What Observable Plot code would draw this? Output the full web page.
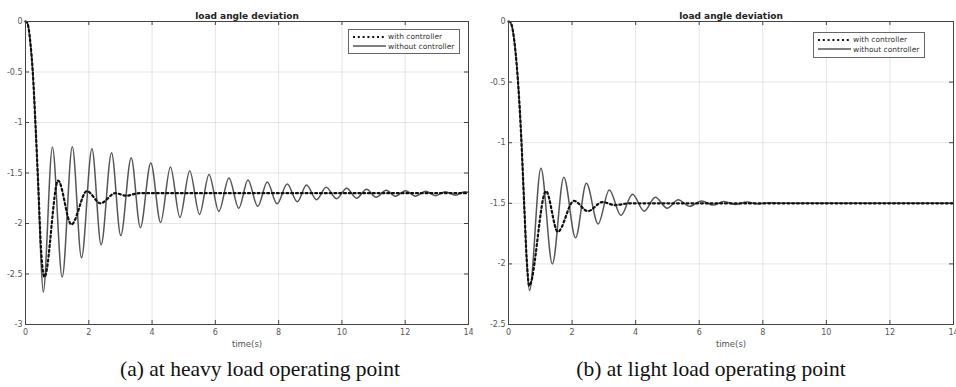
<!DOCTYPE html>
<html><head><meta charset="utf-8">
<script src="https://cdn.jsdelivr.net/npm/d3@7"></script>
<script src="https://cdn.jsdelivr.net/npm/@observablehq/plot@0.6"></script>
<style>
body{margin:0;background:#fff;}
#wrap{position:relative;width:956px;height:387px;overflow:hidden;background:#fff;}
.panel{position:absolute;top:0;}
.cap{position:absolute;top:357px;font-family:"Liberation Serif","Times New Roman",serif;font-size:21.5px;line-height:24px;color:#111;white-space:nowrap;transform:translateX(-50%);}
.legend{position:absolute;border:1px solid #666;background:#fff;font-family:"DejaVu Sans",sans-serif;font-size:7.5px;color:#333;}
.legend .row{position:absolute;left:3px;height:9px;display:flex;align-items:center;white-space:nowrap;}
.legend svg{margin-right:1px;}
</style></head>
<body>
<div id="wrap"></div>
<script>
const chartTitle = "load angle deviation";
const xLabel = "time(s)";
const seriesNames = ["with controller", "without controller"];
const captions = ["(a) at heavy load operating point", "(b) at light load operating point"];
const xTicks = [0, 2, 4, 6, 8, 10, 12, 14];
const yTicksHeavy = [0, -0.5, -1, -1.5, -2, -2.5, -3];
const yTicksLight = [0, -0.5, -1, -1.5, -2, -2.5];

// (a) heavy load: [time, deviation]
const heavyWith = [[0,0],[0.05,-0.01],[0.1,-0.07],[0.15,-0.2],[0.23,-0.5],[0.32,-1.05],[0.4,-1.6],[0.49,-2.25],[0.6,-2.53],[1.03,-1.575],[1.45,-2.01],[1.94,-1.68],[2.37,-1.8],[2.84,-1.7],[3.18,-1.725],[3.6,-1.7],[14,-1.7]];
const heavyWithout = [[0,0],[0.05,-0.01],[0.1,-0.07],[0.15,-0.2],[0.23,-0.5],[0.32,-1.05],[0.4,-1.6],[0.48,-2.3],[0.56,-2.68],[0.85,-1.245],[1.16,-2.53],[1.48,-1.24],[1.77,-2.34],[2.1,-1.26],[2.39,-2.21],[2.72,-1.3],[3.01,-2.12],[3.34,-1.35],[3.63,-2.04],[3.96,-1.4],[4.27,-1.99],[4.58,-1.44],[4.88,-1.94],[5.19,-1.48],[5.5,-1.91],[5.8,-1.515],[6.11,-1.88],[6.43,-1.55],[6.74,-1.85],[7.03,-1.57],[7.34,-1.83],[7.64,-1.59],[7.95,-1.805],[8.27,-1.61],[8.59,-1.785],[8.88,-1.62],[9.2,-1.765],[9.5,-1.64],[9.83,-1.755],[10.15,-1.65],[10.46,-1.75],[10.78,-1.66],[11.08,-1.74],[11.4,-1.67],[11.69,-1.73],[12.01,-1.675],[12.33,-1.73],[12.64,-1.68],[12.96,-1.725],[13.27,-1.685],[13.59,-1.72],[13.88,-1.685],[14,-1.69]];

// (b) light load: [time, deviation]
const lightWith = [[0,0],[0.05,-0.005],[0.1,-0.03],[0.2,-0.2],[0.3,-0.5],[0.4,-0.95],[0.5,-1.55],[0.57,-1.95],[0.65,-2.18],[1.18,-1.4],[1.55,-1.735],[2.06,-1.48],[2.5,-1.565],[2.95,-1.49],[3.35,-1.515],[3.8,-1.5],[14,-1.5]];
const lightWithout = [[0,0],[0.05,-0.005],[0.1,-0.03],[0.2,-0.2],[0.3,-0.5],[0.4,-0.95],[0.5,-1.55],[0.58,-2.0],[0.66,-2.22],[1.02,-1.21],[1.38,-2.0],[1.74,-1.285],[2.11,-1.785],[2.45,-1.335],[2.82,-1.67],[3.17,-1.39],[3.54,-1.6],[3.9,-1.425],[4.27,-1.565],[4.62,-1.45],[4.99,-1.54],[5.34,-1.47],[5.7,-1.525],[6.07,-1.48],[6.44,-1.515],[6.77,-1.485],[7.14,-1.51],[7.5,-1.49],[7.85,-1.505],[8.2,-1.495],[8.6,-1.5],[14,-1.5]];

const H = 352, MT = 21, MB = 28;
const fmt = d => String(d);

function panel({width, ml, mr, yDomain, yTicks, withData, withoutData}) {
  const iw = width - ml - mr, ih = H - MT - MB, t = 4;
  return Plot.plot({
    width, height: H, marginLeft: ml, marginRight: mr, marginTop: MT, marginBottom: MB,
    style: {fontFamily: "DejaVu Sans, sans-serif", fontSize: "8px", color: "#555", background: "transparent", overflow: "visible"},
    x: {domain: [0, 14]},
    y: {domain: yDomain},
    marks: [
      Plot.gridX(xTicks, {stroke: "#000", strokeOpacity: 0.1}),
      Plot.gridY(yTicks, {stroke: "#000", strokeOpacity: 0.1}),
      Plot.axisX(xTicks, {tickSize: 0, tickPadding: 5, tickFormat: fmt, label: null, fill: "#555"}),
      Plot.axisY(yTicks, {tickSize: 0, tickPadding: 3, tickFormat: fmt, label: null, fill: "#555"}),
      Plot.ruleX(xTicks, {x: d => d, insetTop: ih - t, stroke: "#444"}),
      Plot.ruleX(xTicks, {x: d => d, insetBottom: ih - t, stroke: "#444"}),
      Plot.ruleY(yTicks, {y: d => d, insetRight: iw - t, stroke: "#444"}),
      Plot.ruleY(yTicks, {y: d => d, insetLeft: iw - t, stroke: "#444"}),
      Plot.line(withoutData, {x: d => d[0], y: d => d[1], curve: "monotone-x", stroke: "#555", strokeWidth: 1.5}),
      Plot.line(withData, {x: d => d[0], y: d => d[1], curve: "monotone-x", stroke: "#111", strokeWidth: 2.2, strokeDasharray: "2,2.8"}),
      Plot.frame({stroke: "#444"}),
      Plot.text([chartTitle], {frameAnchor: "top", dy: -9, fontWeight: "bold", fontSize: 9, fill: "#222"}),
      Plot.text([xLabel], {frameAnchor: "bottom", dy: 22, fontSize: 8.5, fill: "#555"})
    ]
  });
}

const wrap = document.getElementById("wrap");
const specs = [
  {left: 0, width: 476, ml: 25, mr: 8, yDomain: [-3, 0], yTicks: yTicksHeavy, withData: heavyWith, withoutData: heavyWithout,
   legend: {left: 348, top: 29, w: 110, h: 23}, cap: 260},
  {left: 476, width: 480, ml: 32, mr: 3, yDomain: [-2.5, 0], yTicks: yTicksLight, withData: lightWith, withoutData: lightWithout,
   legend: {left: 813, top: 32, w: 110, h: 24}, cap: 711}
];
specs.forEach((s, k) => {
  const div = document.createElement("div");
  div.className = "panel";
  div.style.left = s.left + "px";
  div.appendChild(panel(s));
  wrap.appendChild(div);

  const lg = document.createElement("div");
  lg.className = "legend";
  Object.assign(lg.style, {left: s.legend.left + "px", top: s.legend.top + "px", width: s.legend.w + "px", height: s.legend.h + "px"});
  const styles = [
    `stroke="#111" stroke-width="2.2" stroke-dasharray="2,2.8"`,
    `stroke="#555" stroke-width="1.5"`
  ];
  seriesNames.forEach((name, i) => {
    const row = document.createElement("div");
    row.className = "row";
    row.style.top = (2 + i * 9.5) + "px";
    row.innerHTML = `<svg width="35" height="6"><line x1="1" x2="34" y1="3" y2="3" ${styles[i]}/></svg><span>${name}</span>`;
    lg.appendChild(row);
  });
  wrap.appendChild(lg);

  const cap = document.createElement("div");
  cap.className = "cap";
  cap.style.left = s.cap + "px";
  cap.textContent = captions[k];
  wrap.appendChild(cap);
});
</script>
</body></html>
